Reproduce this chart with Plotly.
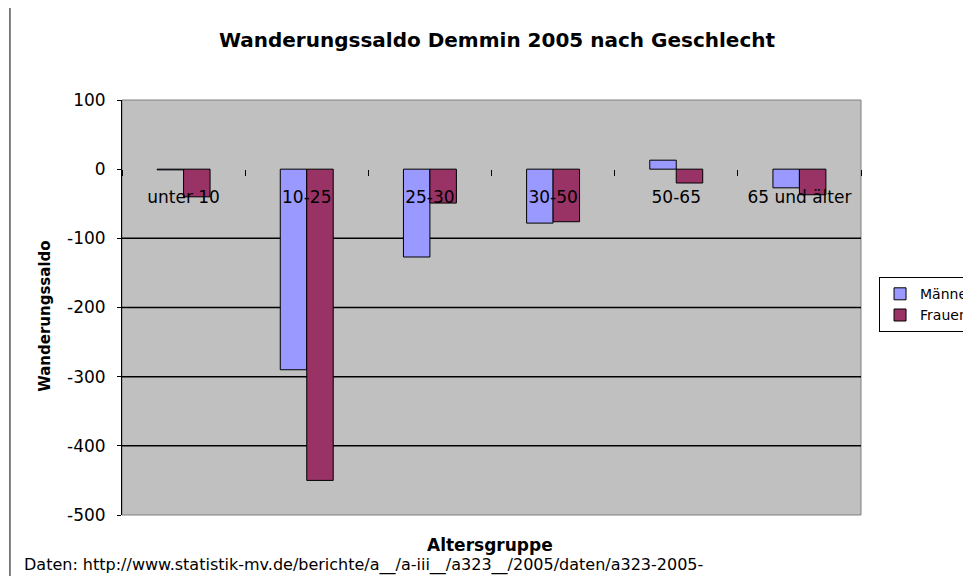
import plotly.graph_objects as go

# data
categories = ["unter 10", "10-25", "25-30", "30-50", "50-65", "65 und älter"]
maenner = [-1, -290, -127, -78, 13, -27]
frauen = [-40, -450, -49, -76, -20, -37]

y_ticks = [100, 0, -100, -200, -300, -400, -500]
y_ticktext = ["100", "0", "-100", "-200", "-300", "-400", "-500"]
grid_values = [-100, -200, -300, -400]
y_range = [-500, 100]

FONT = "DejaVu Sans, Verdana, sans-serif"

fig = go.Figure()

fig.add_trace(go.Bar(
    x=categories, y=maenner, name="Männer",
    marker=dict(color="#9999FF", line=dict(color="black", width=1)),
))
fig.add_trace(go.Bar(
    x=categories, y=frauen, name="Frauen",
    marker=dict(color="#993366", line=dict(color="black", width=1)),
))

# x axis sits at value 0 inside the plot area (Excel style)
zero_pos = (0 - y_range[0]) / (y_range[1] - y_range[0])

fig.update_xaxes(
    type="category",
    anchor="free",
    position=zero_pos,
    showline=False,
    showgrid=False,
    zeroline=False,
    tickson="boundaries",
    ticks="outside",
    ticklen=6,
    tickwidth=1,
    tickcolor="black",
    ticklabelstandoff=16,
    tickfont=dict(family=FONT, size=17, color="black"),
)

fig.update_yaxes(
    range=y_range,
    tickvals=y_ticks,
    ticktext=y_ticktext,
    showgrid=False,
    zeroline=False,
    showline=True,
    linecolor="black",
    linewidth=1,
    ticks="outside",
    ticklen=4,
    tickcolor="black",
    ticklabelstandoff=8,
    tickfont=dict(family=FONT, size=17, color="black"),
)

# plot area border and horizontal gridlines
fig.add_shape(type="rect", xref="paper", yref="paper", x0=0, x1=1, y0=0, y1=1,
              line=dict(color="#808080", width=1), layer="below")
for g in grid_values:
    fig.add_shape(type="line", xref="paper", yref="y", x0=0, x1=1, y0=g, y1=g,
                  line=dict(color="black", width=1.5), layer="below")

# page border line at the left
fig.add_shape(type="line", xref="paper", yref="paper", x0=-0.1516, x1=-0.1516, y0=-0.3, y1=1.3,
              line=dict(color="black", width=1))

fig.add_annotation(
    text="<b>Wanderungssaldo</b>", xref="paper", yref="paper", x=-0.1042, y=0.48,
    textangle=-90, showarrow=False, xanchor="center", yanchor="middle",
    font=dict(family=FONT, size=15, color="black"),
)
fig.add_annotation(
    text="<b>Altersgruppe</b>", xref="paper", yref="paper", x=0.498, y=-0.0723,
    showarrow=False, yanchor="middle", font=dict(family=FONT, size=17, color="black"),
)
fig.add_annotation(
    text="Daten: http://www.statistik-mv.de/berichte/a__/a-iii__/a323__/2005/daten/a323-2005-",
    xref="paper", yref="paper", x=-0.1353, y=-0.12, xanchor="left", yanchor="middle",
    showarrow=False, font=dict(family=FONT, size=16, color="black"),
)

fig.update_layout(
    width=971, height=576,
    margin=dict(l=114, r=118, t=92, b=69, autoexpand=False),
    paper_bgcolor="white",
    plot_bgcolor="#C0C0C0",
    barmode="group",
    bargap=0.57,
    bargroupgap=0,
    title=dict(
        text="<b>Wanderungssaldo Demmin 2005 nach Geschlecht</b>",
        x=0.5036, xanchor="center", y=0.944, yanchor="middle",
        font=dict(family=FONT, size=20, color="black"),
    ),
    legend=dict(
        x=1.0244, y=0.573, xanchor="left", yanchor="top",
        bgcolor="white", bordercolor="black", borderwidth=1,
        font=dict(family=FONT, size=14, color="black"),
        itemwidth=30,
        tracegroupgap=0,
    ),
    showlegend=True,
)

fig.write_html("out.html")
